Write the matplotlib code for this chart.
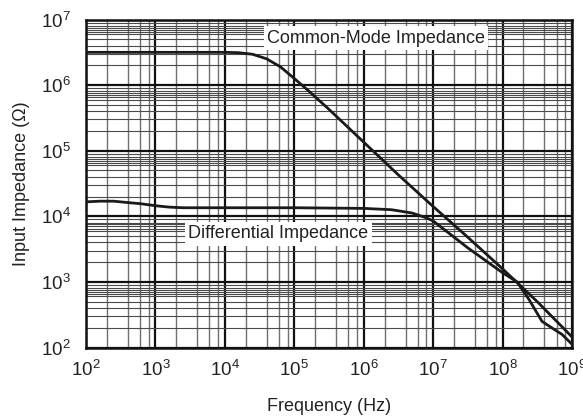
import matplotlib
matplotlib.use("Agg")
import matplotlib.pyplot as plt
from matplotlib.ticker import LogLocator, NullFormatter

plt.rcParams['font.family'] = ['Liberation Sans', 'DejaVu Sans']
plt.rcParams['mathtext.fontset'] = 'custom'
plt.rcParams['mathtext.rm'] = 'Liberation Sans'
plt.rcParams['mathtext.it'] = 'Liberation Sans:italic'
plt.rcParams['mathtext.bf'] = 'Liberation Sans:bold'

# Common-mode impedance (Hz, Ohm)
cm_freq = [1e2, 1e3, 1e4, 1.58e4, 2.51e4, 3.98e4, 6.31e4, 1e5, 1.58e5,
           3.16e5, 1e6, 3.16e6, 1e7, 3.16e7, 1e8, 3.16e8, 1e9]
cm_z = [3.16e6, 3.16e6, 3.16e6, 3.12e6, 2.95e6, 2.52e6, 1.9e6, 1.26e6, 8.3e5,
        4.27e5, 1.35e5, 4.27e4, 1.41e4, 4.79e3, 1.58e3, 5.0e2, 1.45e2]

# Differential impedance (Hz, Ohm)
dm_freq = [1e2, 1.58e2, 2.51e2, 3.98e2, 6.31e2, 1e3, 1.58e3, 2.51e3, 1e4,
           1e5, 1e6, 2.51e6, 5.01e6, 7.94e6, 1e7, 3.16e7, 1e8, 1.62e8,
           2.4e8, 3.7e8, 5.1e8, 7.2e8, 1e9]
dm_z = [1.66e4, 1.70e4, 1.70e4, 1.62e4, 1.55e4, 1.45e4, 1.38e4, 1.35e4, 1.35e4,
        1.35e4, 1.32e4, 1.26e4, 1.12e4, 9.5e3, 8.5e3, 3.3e3, 1.38e3, 1.0e3,
        5.4e2, 2.5e2, 2.0e2, 1.58e2, 1.12e2]

x_ticks = [1e2, 1e3, 1e4, 1e5, 1e6, 1e7, 1e8, 1e9]
y_ticks = [1e2, 1e3, 1e4, 1e5, 1e6, 1e7]
x_label = "Frequency (Hz)"
y_label = "Input Impedance (\u03a9)"
cm_label = "Common-Mode Impedance"
dm_label = "Differential Impedance"

fig = plt.figure(figsize=(5.83, 4.17), dpi=100)
ax = fig.add_axes([86/583, 1-347.5/417, (572-86)/583, (347.5-19.5)/417])

ax.set_xscale('log')
ax.set_yscale('log')
ax.set_xlim(1e2, 1e9)
ax.set_ylim(1e2, 1e7)
ax.set_xticks(x_ticks)
ax.set_yticks(y_ticks)
ax.xaxis.set_minor_locator(LogLocator(base=10, subs=(2, 4, 6, 8), numticks=20))
ax.yaxis.set_minor_locator(LogLocator(base=10, subs=(2, 3, 4, 5, 6, 6.5, 7, 7.5, 8, 9), numticks=20))
ax.xaxis.set_minor_formatter(NullFormatter())
ax.yaxis.set_minor_formatter(NullFormatter())

ax.grid(True, which='major', color='#111111', lw=1.6, zorder=1)
ax.grid(True, which='minor', axis='x', color='#707070', lw=1.0, zorder=1)
ax.grid(True, which='minor', axis='y', color='#4a4a4a', lw=0.8, zorder=1)
ax.set_axisbelow(True)

ax.tick_params(which='both', length=0)
ax.tick_params(axis='x', which='major', pad=9, labelsize=13.5, colors='#222222')
ax.tick_params(axis='y', which='major', pad=11, labelsize=13.5, colors='#222222')

for s in ax.spines.values():
    s.set_linewidth(1.8)
    s.set_color('#111111')

ax.plot(cm_freq, cm_z, color='#1a1a1a', lw=2.0, zorder=3)
ax.plot(dm_freq, dm_z, color='#1a1a1a', lw=2.0, zorder=3)

box = dict(facecolor='white', edgecolor='none', pad=2.5)
ax.text(1.5e6, 5.2e6, cm_label, fontsize=13, ha='center', va='center',
        color='#222222', bbox=box, zorder=4)
ax.text(5.9e4, 5.4e3, dm_label, fontsize=13, ha='center', va='center',
        color='#222222', bbox=box, zorder=4)

ax.set_xlabel(x_label, fontsize=13, color='#222222', labelpad=13)
ax.set_ylabel(y_label, fontsize=13, color='#222222', labelpad=8)

fig.savefig("out.png", dpi=100)
